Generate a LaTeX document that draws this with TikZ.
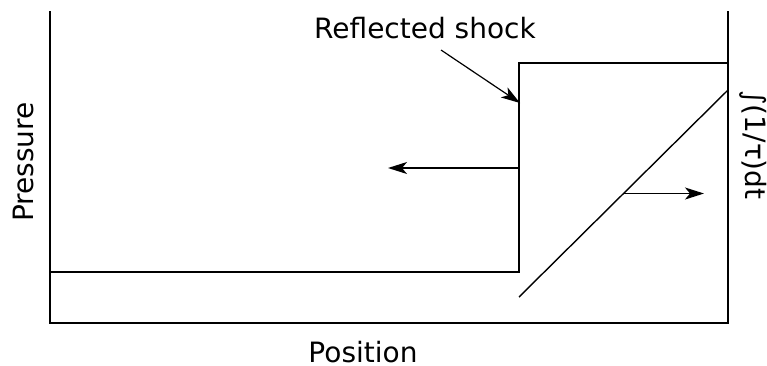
\documentclass[tikz,border=0pt]{standalone}
\usepackage{fontspec}
\setmainfont{DejaVu Sans}
\usepackage{tikz}
\usetikzlibrary{arrows.meta, positioning, calc}

\begin{document}
\begin{tikzpicture}[x=1pt,y=-1pt,line width=1.4pt,
		>={Stealth[length=19pt,width=12pt,inset=5pt]},
		every node/.style={font=\fontsize{28}{33}\selectfont, inner sep=0pt}]
			\useasboundingbox (0,0) rectangle (767,365);
			% frame
			\coordinate (tl) at (50,11);
			\coordinate (bl) at (50,323);
			\coordinate (br) at (728,323);
			\coordinate (tr) at (728,11);
			\draw (tl) -- (bl) -- (br) -- (tr);
			% pressure
			\coordinate (p0) at (50,272);
			\coordinate (s0) at (519,272);
			\coordinate (s1) at (519,63);
			\coordinate (p1) at (728,63);
			\draw (p0) -- (s0) -- (s1) -- (p1);
			% integral
			\coordinate (i0) at (519,297);
			\coordinate (i1) at (728,90);
			\draw (i0) -- (i1);
			\coordinate (im) at ($(i0)!0.5!(i1)$);
			\coordinate (ie) at (704,194);
			\draw[->] (im) -- (ie |- im);
			% shock moving back
			\coordinate (sm) at (519,168);
			\coordinate (se) at (388,168);
			\draw[->] (sm) -- (se);
			% labels
			\node[anchor=base] (shock) at (425,38) {Reflected shock};
			\coordinate (sa) at (441,50);
			\coordinate (sb) at (520,103);
			\draw[->, line width=1.2pt] (sa) -- (sb);
			\node[rotate=90, anchor=base] (pres) at (33,162) {Pressure};
			\node[anchor=base] (pos) at (363,362) {Position};
			\node[rotate=-90, anchor=base] (intg) at (745,145) {∫(1/τ)dt};
		\end{tikzpicture}
\end{document}
